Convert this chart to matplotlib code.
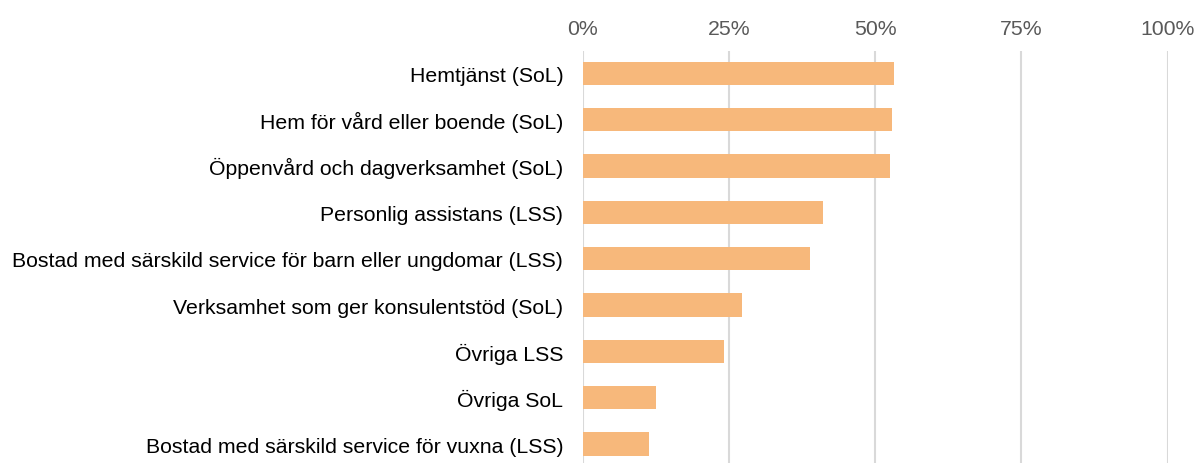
import matplotlib
matplotlib.use("Agg")
import matplotlib.pyplot as plt
from matplotlib.ticker import FuncFormatter

categories = [
    "Hemtjänst (SoL)",
    "Hem för vård eller boende (SoL)",
    "Öppenvård och dagverksamhet (SoL)",
    "Personlig assistans (LSS)",
    "Bostad med särskild service för barn eller ungdomar (LSS)",
    "Verksamhet som ger konsulentstöd (SoL)",
    "Övriga LSS",
    "Övriga SoL",
    "Bostad med särskild service för vuxna (LSS)",
]
values = [53.2, 52.9, 52.6, 41.0, 38.9, 27.3, 24.2, 12.5, 11.3]
xticks = [0, 25, 50, 75, 100]

plt.rcParams['font.family'] = ['Liberation Sans', 'DejaVu Sans']

fig = plt.figure(figsize=(11.97, 4.64), dpi=100)
ax = fig.add_axes([582.7/1197, 0.0, 585/1197, 1 - 52/464])

y = list(range(len(categories)))
ax.barh(y, values, height=0.5, color="#F7B87B", zorder=3)
ax.set_ylim(-0.5 + 412/46.25, -0.48)
ax.set_xlim(0, 100)
ax.set_xticks(xticks)
ax.xaxis.set_major_formatter(FuncFormatter(lambda v, p: f"{int(v)}%"))
ax.xaxis.tick_top()
ax.tick_params(axis='x', length=0, pad=9, labelsize=15.3, labelcolor="#595959")
ax.set_yticks(y)
ax.set_yticklabels(categories)
ax.tick_params(axis='y', length=0, pad=14, labelsize=15.3, labelcolor="#000000")
ax.grid(axis='x', color="#D9D9D9", linewidth=1.5, zorder=0)
for s in ax.spines.values():
    s.set_visible(False)

fig.savefig("out.png", dpi=100)
